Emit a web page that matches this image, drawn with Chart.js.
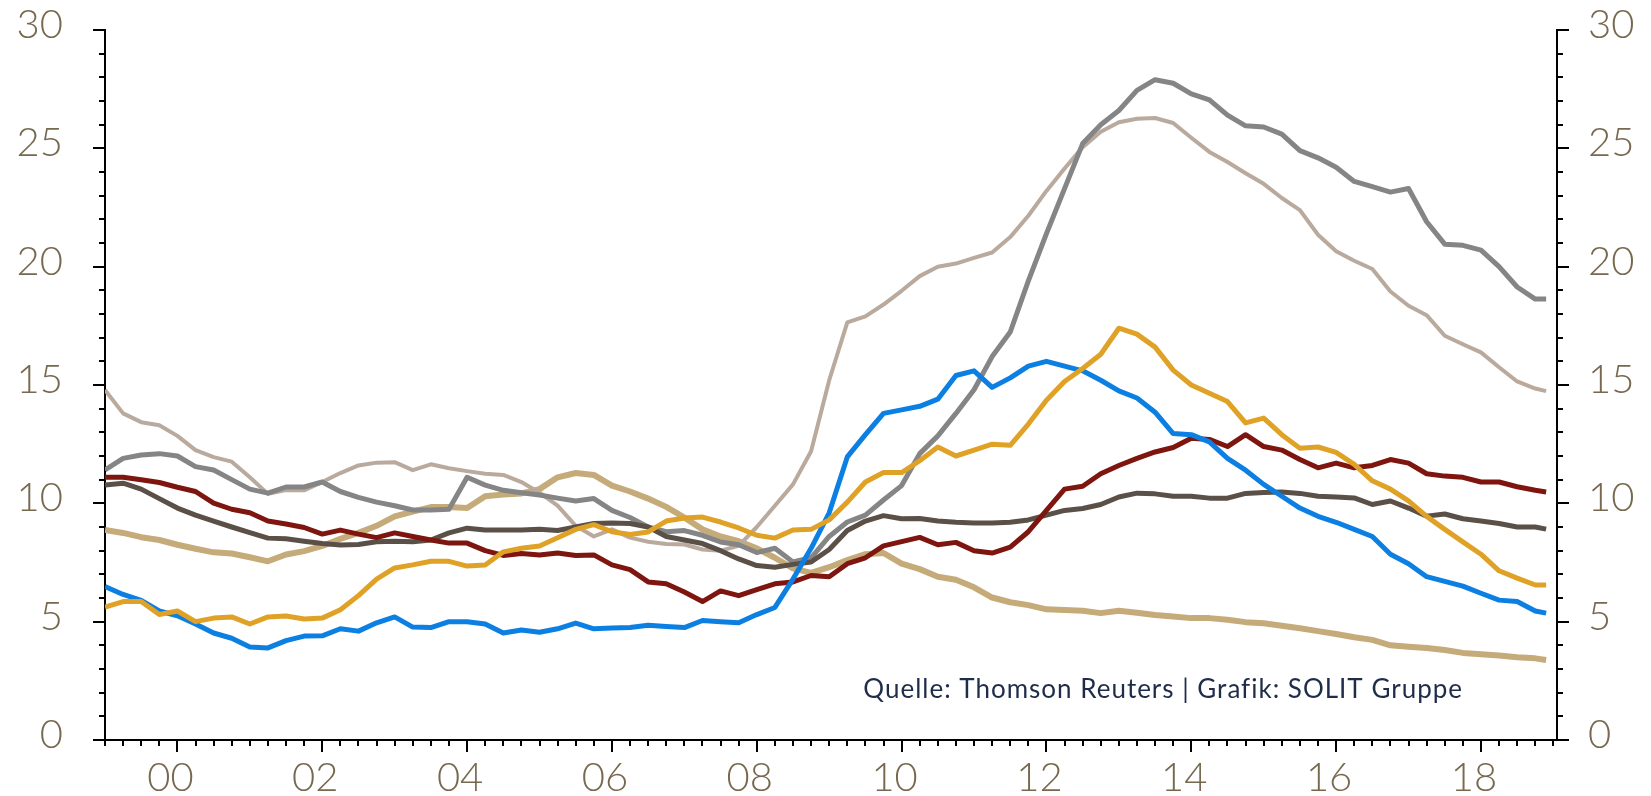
<!DOCTYPE html>
<html>
<head>
<meta charset="utf-8">
<script src="https://cdn.jsdelivr.net/npm/chart.js@4.4.1/dist/chart.umd.min.js"></script>
<style>
  html, body { margin: 0; padding: 0; background: #ffffff; }
  #wrap { position: relative; width: 1651px; height: 796px; }
</style>
</head>
<body>
<div id="wrap"><canvas id="chart"></canvas></div>
<script>
// Quarterly dates (decimal years), last point is the latest reading
const dates = [
  1999, 1999.25, 1999.5, 1999.75,
  2000, 2000.25, 2000.5, 2000.75,
  2001, 2001.25, 2001.5, 2001.75,
  2002, 2002.25, 2002.5, 2002.75,
  2003, 2003.25, 2003.5, 2003.75,
  2004, 2004.25, 2004.5, 2004.75,
  2005, 2005.25, 2005.5, 2005.75,
  2006, 2006.25, 2006.5, 2006.75,
  2007, 2007.25, 2007.5, 2007.75,
  2008, 2008.25, 2008.5, 2008.75,
  2009, 2009.25, 2009.5, 2009.75,
  2010, 2010.25, 2010.5, 2010.75,
  2011, 2011.25, 2011.5, 2011.75,
  2012, 2012.25, 2012.5, 2012.75,
  2013, 2013.25, 2013.5, 2013.75,
  2014, 2014.25, 2014.5, 2014.75,
  2015, 2015.25, 2015.5, 2015.75,
  2016, 2016.25, 2016.5, 2016.75,
  2017, 2017.25, 2017.5, 2017.75,
  2018, 2018.25, 2018.5, 2018.75,
  2018.9
];

// Year axis labels
const yearTicks = [2000, 2002, 2004, 2006, 2008, 2010, 2012, 2014, 2016, 2018];
const yearLabels = ["00", "02", "04", "06", "08", "10", "12", "14", "16", "18"];

const blueSeries = [
  6.48, 6.15, 5.9, 5.45,
  5.25, 4.9, 4.52, 4.3,
  3.93, 3.89, 4.2, 4.39,
  4.4, 4.7, 4.6, 4.95,
  5.2, 4.77, 4.75, 5.0,
  5.0, 4.9, 4.52, 4.65,
  4.55, 4.7, 4.94, 4.7,
  4.73, 4.75, 4.85, 4.8,
  4.75, 5.05, 5.0, 4.95,
  5.3, 5.6, 6.8, 8.1,
  9.6, 11.96, 12.9, 13.8,
  13.95, 14.1, 14.4, 15.4,
  15.6, 14.9, 15.3, 15.8,
  16.0, 15.8, 15.6, 15.2,
  14.75, 14.45, 13.85, 12.95,
  12.9, 12.6, 11.9, 11.4,
  10.8, 10.3, 9.8, 9.45,
  9.2, 8.9, 8.6, 7.85,
  7.45, 6.9, 6.7, 6.5,
  6.2, 5.91, 5.85, 5.45,
  5.36
];

const goldSeries = [
  5.62, 5.85, 5.85, 5.3,
  5.45, 5.0, 5.15, 5.2,
  4.9, 5.2, 5.24, 5.11,
  5.15, 5.5, 6.1, 6.8,
  7.27, 7.4, 7.55, 7.55,
  7.35, 7.39, 7.95, 8.1,
  8.2, 8.55, 8.9, 9.1,
  8.8, 8.68, 8.79, 9.25,
  9.38, 9.42, 9.21, 8.96,
  8.65, 8.53, 8.87, 8.9,
  9.3, 10.05, 10.9, 11.3,
  11.3, 11.8, 12.38, 12.0,
  12.25, 12.5, 12.45, 13.35,
  14.36, 15.15, 15.7, 16.3,
  17.4, 17.15, 16.6, 15.63,
  15.0, 14.65, 14.3, 13.4,
  13.6, 12.9, 12.33, 12.38,
  12.15, 11.65, 10.95, 10.6,
  10.1, 9.45, 8.9, 8.37,
  7.85, 7.15, 6.84, 6.55,
  6.55
];

const redSeries = [
  11.1, 11.1, 11.0, 10.88,
  10.68, 10.5, 10.01, 9.75,
  9.6, 9.25, 9.13, 8.98,
  8.7, 8.87, 8.7, 8.55,
  8.75, 8.6, 8.45, 8.32,
  8.32, 8.0, 7.8, 7.88,
  7.82, 7.9, 7.8, 7.82,
  7.4, 7.2, 6.68, 6.6,
  6.25, 5.85, 6.3, 6.1,
  6.35, 6.6, 6.68, 6.95,
  6.9, 7.45, 7.7, 8.2,
  8.38, 8.56, 8.25, 8.35,
  8.0, 7.9, 8.15, 8.8,
  9.7, 10.6, 10.72, 11.25,
  11.6, 11.9, 12.17, 12.36,
  12.75, 12.7, 12.4, 12.9,
  12.4, 12.25, 11.85, 11.5,
  11.7, 11.5, 11.6, 11.85,
  11.7, 11.25, 11.15, 11.1,
  10.9, 10.9, 10.7, 10.55,
  10.48
];

const brownSeries = [
  10.77, 10.85, 10.6, 10.2,
  9.8, 9.5, 9.25, 9.0,
  8.76, 8.53, 8.5, 8.4,
  8.3, 8.24, 8.26, 8.38,
  8.4, 8.38, 8.45, 8.75,
  8.95, 8.87, 8.87, 8.87,
  8.9, 8.85, 9.0, 9.15,
  9.17, 9.15, 9.0, 8.6,
  8.45, 8.3, 8.0, 7.65,
  7.37, 7.3, 7.42, 7.52,
  8.05, 8.85, 9.25, 9.48,
  9.35, 9.36, 9.25, 9.2,
  9.17, 9.17, 9.2, 9.3,
  9.5, 9.7, 9.78, 9.95,
  10.27, 10.43, 10.4, 10.3,
  10.3, 10.22, 10.22, 10.42,
  10.46, 10.48, 10.42, 10.3,
  10.27, 10.23, 9.95, 10.1,
  9.8, 9.46, 9.55, 9.35,
  9.25, 9.15, 9.0, 9.0,
  8.91
];

const graySeries = [
  11.41, 11.9, 12.04, 12.1,
  12.0, 11.55, 11.41, 11.0,
  10.6, 10.43, 10.69, 10.69,
  10.9, 10.5, 10.25, 10.05,
  9.9, 9.72, 9.72, 9.75,
  11.1, 10.77, 10.55, 10.45,
  10.35, 10.22, 10.1, 10.2,
  9.7, 9.4, 9.0, 8.8,
  8.85, 8.65, 8.37, 8.25,
  7.92, 8.1, 7.52, 7.7,
  8.6, 9.21, 9.5, 10.14,
  10.75, 12.1, 12.85, 13.8,
  14.8, 16.2, 17.24, 19.4,
  21.4, 23.3, 25.2, 26.0,
  26.6, 27.45, 27.9, 27.75,
  27.3, 27.05, 26.4, 25.95,
  25.9, 25.6, 24.9, 24.6,
  24.2, 23.6, 23.38, 23.15,
  23.3, 21.9, 20.95, 20.9,
  20.7, 20.0, 19.14, 18.63,
  18.63
];

const taupeSeries = [
  14.79, 13.8, 13.43, 13.3,
  12.85, 12.25, 11.95, 11.76,
  11.1, 10.4, 10.56, 10.55,
  10.9, 11.28, 11.6, 11.72,
  11.74, 11.4, 11.65, 11.48,
  11.36, 11.25, 11.2, 10.9,
  10.45, 9.9, 9.05, 8.6,
  8.9, 8.55, 8.38, 8.28,
  8.26, 8.05, 8.0, 8.2,
  9.0, 9.9, 10.8, 12.2,
  15.2, 17.65, 17.9, 18.4,
  18.98, 19.6, 20.0, 20.13,
  20.37, 20.6, 21.25, 22.15,
  23.2, 24.15, 25.05, 25.7,
  26.1, 26.25, 26.28, 26.07,
  25.45, 24.85, 24.42, 23.95,
  23.5, 22.9, 22.39, 21.35,
  20.65, 20.25, 19.9, 18.95,
  18.35, 17.95, 17.08, 16.72,
  16.38, 15.75, 15.15, 14.85,
  14.74
];

const tanSeries = [
  8.87, 8.75, 8.57, 8.45,
  8.25, 8.08, 7.93, 7.88,
  7.72, 7.55, 7.84, 7.98,
  8.2, 8.5, 8.75, 9.05,
  9.45, 9.65, 9.84, 9.84,
  9.8, 10.3, 10.37, 10.42,
  10.6, 11.1, 11.28, 11.2,
  10.75, 10.5, 10.2, 9.85,
  9.4, 8.9, 8.6, 8.4,
  8.1, 7.7, 7.25, 7.06,
  7.3, 7.6, 7.85, 7.9,
  7.45, 7.22, 6.9, 6.77,
  6.45, 6.02, 5.82, 5.7,
  5.52, 5.49, 5.46, 5.36,
  5.46, 5.38, 5.28, 5.22,
  5.15, 5.15, 5.08, 4.98,
  4.93, 4.83, 4.72, 4.6,
  4.48, 4.34, 4.23, 4.0,
  3.94, 3.89, 3.8, 3.68,
  3.62, 3.57, 3.5, 3.45,
  3.38
];

const sourceText = "Quelle: Thomson Reuters | Grafik: SOLIT Gruppe";
const labelColor = "#77694f";

function toPoints(values) {
  return values.map((v, i) => ({ x: dates[i], y: v }));
}

function makeLine(data, color, width) {
  return {
    data: toPoints(data),
    borderColor: color,
    borderWidth: width,
    pointRadius: 0,
    tension: 0,
    borderJoinStyle: "round",
    fill: false,
    yAxisID: "y",
  };
}

// Tick marks: quarterly minor ticks on x, unit minor ticks on both y axes
const axisTicks = {
  id: "axisTicks",
  afterDraw(chart) {
    const { ctx, chartArea, scales } = chart;
    ctx.save();
    ctx.strokeStyle = "#000000";
    ctx.lineWidth = 2;
    ctx.beginPath();
    for (let q = 0; q <= 80; q++) {
      const px = Math.round(scales.x.getPixelForValue(1999 + q / 4));
      const len = q % 8 === 4 ? 12 : 6;
      ctx.moveTo(px, chartArea.bottom);
      ctx.lineTo(px, chartArea.bottom + len);
    }
    for (let v = 0; v <= 30; v++) {
      const py = Math.round(scales.y.getPixelForValue(v));
      const len = v % 5 === 0 ? 12 : 6;
      ctx.moveTo(chartArea.left, py);
      ctx.lineTo(chartArea.left - len, py);
      ctx.moveTo(chartArea.right, py);
      ctx.lineTo(chartArea.right + len, py);
    }
    ctx.stroke();

    // source note
    ctx.fillStyle = "#1f2c4a";
    ctx.font = "26px Lato";
    ctx.letterSpacing = "1px";
    ctx.textAlign = "right";
    ctx.textBaseline = "alphabetic";
    ctx.fillText(sourceText, chartArea.right - 94, chartArea.bottom - 42);
    ctx.restore();
  },
};

const tickFont = { family: "Lato", size: 40, weight: "300" };

// keep label overflow from pushing the plot area around
function noPad(scale) {
  scale.paddingTop = 0;
  scale.paddingBottom = 0;
  scale.paddingLeft = 0;
  scale.paddingRight = 0;
}

new Chart(document.getElementById("chart"), {
  type: "line",
  data: {
    datasets: [
      makeLine(goldSeries, "#e0a226", 5),
      makeLine(blueSeries, "#0b7fe2", 5),
      makeLine(redSeries, "#7e150f", 5),
      makeLine(brownSeries, "#5b5048", 5),
      makeLine(graySeries, "#858585", 5),
      makeLine(taupeSeries, "#b9aa9d", 4),
      makeLine(tanSeries, "#c5ab79", 6),
    ],
  },
  options: {
    responsive: true,
    maintainAspectRatio: false,
    animation: false,
    devicePixelRatio: 1,
    layout: { padding: { top: 30, left: 0, right: 0, bottom: 0 } },
    plugins: {
      legend: { display: false },
      tooltip: { enabled: false },
    },
    scales: {
      x: {
        type: "linear",
        min: 1999,
        max: 2019.05,
        afterBuildTicks: (scale) => {
          scale.ticks = yearTicks.map((v) => ({ value: v }));
        },
        afterFit: (scale) => {
          scale.height = 56;
          noPad(scale);
        },
        ticks: {
          color: labelColor,
          font: tickFont,
          padding: 14,
          labelOffset: -7,
          maxRotation: 0,
          autoSkip: false,
          callback: (value) => yearLabels[yearTicks.indexOf(value)],
        },
        grid: { display: true, drawOnChartArea: false, drawTicks: false },
        border: { display: true, color: "#000000", width: 2 },
      },
      y: {
        position: "left",
        min: 0,
        max: 30,
        afterFit: (scale) => {
          scale.width = 105;
          noPad(scale);
        },
        ticks: {
          stepSize: 5,
          color: labelColor,
          font: tickFont,
          padding: 42,
          labelOffset: -5,
        },
        grid: { display: true, drawOnChartArea: false, drawTicks: false },
        border: { display: true, color: "#000000", width: 2 },
      },
      y2: {
        position: "right",
        min: 0,
        max: 30,
        afterFit: (scale) => {
          scale.width = 94;
          noPad(scale);
        },
        ticks: {
          stepSize: 5,
          color: labelColor,
          font: tickFont,
          padding: 31,
          labelOffset: -5,
        },
        grid: { display: true, drawOnChartArea: false, drawTicks: false },
        border: { display: true, color: "#000000", width: 2 },
      },
    },
  },
  plugins: [axisTicks],
});
</script>
</body>
</html>
